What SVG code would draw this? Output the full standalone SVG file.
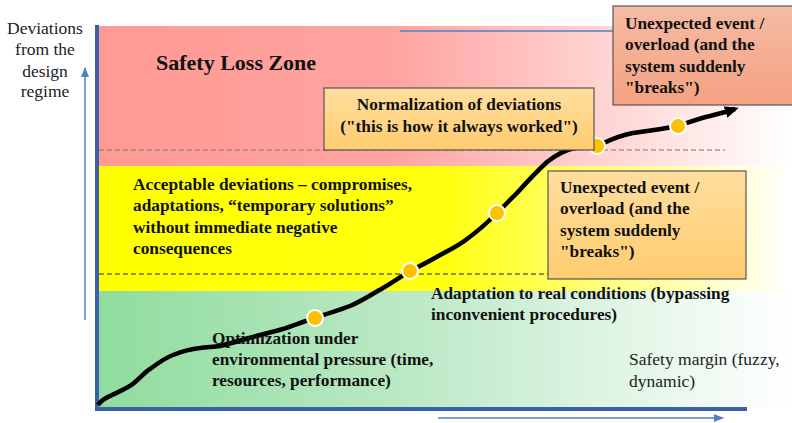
<svg xmlns="http://www.w3.org/2000/svg" width="792" height="423" viewBox="0 0 792 423">
<defs>
<linearGradient id="gRed" x1="0" y1="0" x2="1" y2="0">
<stop offset="0" stop-color="#FF9A94"/><stop offset="0.42" stop-color="#FFA3A0"/><stop offset="1" stop-color="#FFFFFF"/>
</linearGradient>
<linearGradient id="gYel" x1="0" y1="0" x2="1" y2="0">
<stop offset="0" stop-color="#FFFF00"/><stop offset="0.5" stop-color="#FFFF10"/><stop offset="1" stop-color="#FFFFFF"/>
</linearGradient>
<linearGradient id="gGrn" x1="0" y1="0" x2="1" y2="0">
<stop offset="0" stop-color="#90DC9E"/><stop offset="0.45" stop-color="#BCE9C6"/><stop offset="1" stop-color="#FFFFFF"/>
</linearGradient>
<linearGradient id="gSalmon" x1="0" y1="0" x2="0" y2="1">
<stop offset="0" stop-color="#F5BBA4"/><stop offset="1" stop-color="#F4A282"/>
</linearGradient>
<linearGradient id="gOrange" x1="0" y1="0" x2="0" y2="1">
<stop offset="0" stop-color="#FFDE9E"/><stop offset="1" stop-color="#FFCC70"/>
</linearGradient>
<marker id="blueArrow" markerWidth="10" markerHeight="8" refX="9" refY="4" orient="auto" markerUnits="userSpaceOnUse">
<path d="M0,0 L10,4 L0,8 Z" fill="#4F81C8"/>
</marker>
<marker id="blackArrow" markerWidth="14" markerHeight="12" refX="10" refY="6" orient="auto" markerUnits="userSpaceOnUse">
<path d="M0,0 L14,6 L0,12 Z" fill="#000"/>
</marker>
<style>
.b{font-family:"Liberation Serif","Times New Roman",serif;font-weight:bold;font-size:17.3px;fill:#111}
.r{font-family:"Liberation Serif","Times New Roman",serif;font-size:17.5px;fill:#222}
.box{stroke:#555;stroke-width:1.2}
.dot{fill:#FFC000;stroke:#fff;stroke-width:2}
.thin{stroke:#4F81C8;stroke-width:1.5;fill:none}
</style>
</defs>
<g id="zones">
<rect x="99" y="26" width="693" height="140" fill="url(#gRed)"/>
<rect x="99" y="166" width="693" height="125" fill="url(#gYel)"/>
<rect x="99" y="291" width="693" height="117" fill="url(#gGrn)"/>
<line x1="99" y1="150" x2="725" y2="150" stroke="#777" stroke-width="1.2" stroke-dasharray="5,3"/>
<line x1="99" y1="274" x2="548" y2="274" stroke="#222" stroke-width="1" stroke-dasharray="5,3"/>
</g>
<g id="axes">
<line x1="97" y1="25" x2="97" y2="411" stroke="#3A62AA" stroke-width="4"/>
<line x1="95" y1="409" x2="747" y2="409" stroke="#3A62AA" stroke-width="4"/>
</g>
<g id="connectors">
<line class="thin" x1="85" y1="320" x2="85" y2="68" marker-end="url(#blueArrow)"/>
<line class="thin" x1="438" y1="418" x2="723" y2="418" marker-end="url(#blueArrow)"/>
<line class="thin" x1="400" y1="31" x2="730" y2="31" marker-end="url(#blueArrow)"/>
<path d="M98,405 C103,398 108,397 112,395 C120,391 128,388 134,383 C140,378 145,372 150,369 C158,363 165,358 173,355 C183,351 190,349 200,348 C208,347 214,347 220,346 C232,343 242,340 253,337 C263,334 273,332 283,329 C295,325 305,321 315,318 C328,313 340,310 350,306 C362,301 372,294 383,288 C392,283 400,277 410,271 C418,267 426,263 433,259 C445,252 457,247 467,239 C478,231 488,222 497,213 C504,206 510,200 517,193 C526,183 536,172 547,162 C556,155 565,150 575,148 C583,147 590,146 597,146 C610,140 620,135 633,133 C648,131 663,129 678,126 C690,122 700,118 710,116 C718,114 726,112 735,109" fill="none" stroke="#000" stroke-width="4.5" stroke-linejoin="round" marker-end="url(#blackArrow)"/>
</g>
<g id="dots">
<circle class="dot" cx="315" cy="318" r="8"/>
<circle class="dot" cx="410" cy="271" r="8"/>
<circle class="dot" cx="497" cy="213" r="8"/>
<circle class="dot" cx="597" cy="146" r="8"/>
<circle class="dot" cx="678" cy="126" r="8"/>
</g>
<g id="yLabel">
<text class="r" text-anchor="middle"><tspan x="45" y="34">Deviations</tspan><tspan x="45" y="55">from the</tspan><tspan x="45" y="77">design</tspan><tspan x="45" y="97">regime</tspan></text>
</g>
<g id="safetyLossZone">
<text class="b" x="156" y="70" style="font-size:22px">Safety Loss Zone</text>
</g>
<g id="normalization">
<rect class="box" x="324" y="88" width="270" height="62" fill="url(#gOrange)"/>
<text class="b" text-anchor="middle"><tspan x="459" y="110">Normalization of deviations</tspan><tspan x="459" y="132">("this is how it always worked")</tspan></text>
</g>
<g id="unexpectedTop">
<rect class="box" x="613" y="6" width="182" height="99" fill="url(#gSalmon)"/>
<text class="b"><tspan x="625" y="29">Unexpected event /</tspan><tspan x="625" y="50">overload (and the</tspan><tspan x="625" y="72">system suddenly</tspan><tspan x="625" y="93">"breaks")</tspan></text>
</g>
<g id="unexpectedMid">
<rect class="box" x="548" y="171" width="198" height="108" fill="url(#gOrange)"/>
<text class="b"><tspan x="560" y="193">Unexpected event /</tspan><tspan x="560" y="214">overload (and the</tspan><tspan x="560" y="236">system suddenly</tspan><tspan x="560" y="257">"breaks")</tspan></text>
</g>
<g id="acceptable">
<text class="b"><tspan x="133" y="190">Acceptable deviations – compromises,</tspan><tspan x="133" y="211">adaptations, “temporary solutions”</tspan><tspan x="133" y="233">without immediate negative</tspan><tspan x="133" y="254">consequences</tspan></text>
</g>
<g id="adaptation">
<text class="b"><tspan x="431" y="299">Adaptation to real conditions (bypassing</tspan><tspan x="431" y="320">inconvenient procedures)</tspan></text>
</g>
<g id="optimization">
<text class="b"><tspan x="212" y="344">Optimization under</tspan><tspan x="212" y="365">environmental pressure (time,</tspan><tspan x="212" y="386">resources, performance)</tspan></text>
</g>
<g id="safetyMargin">
<text class="r"><tspan x="629" y="365">Safety margin (fuzzy,</tspan><tspan x="629" y="387">dynamic)</tspan></text>
</g>
</svg>
